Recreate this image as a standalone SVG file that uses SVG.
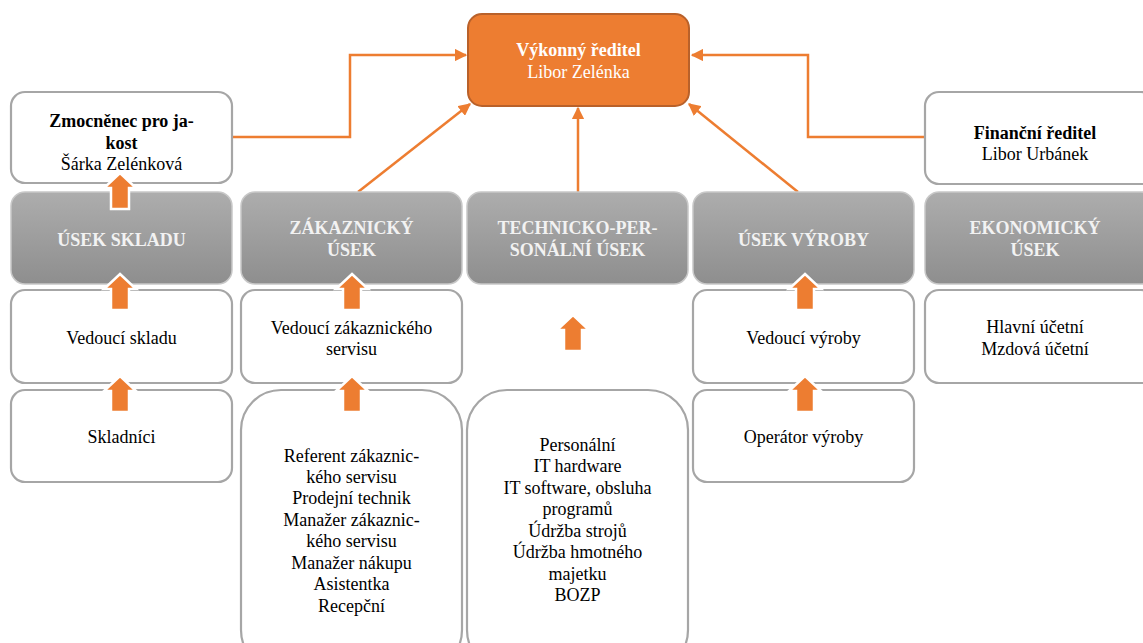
<svg xmlns="http://www.w3.org/2000/svg" width="1143" height="643" viewBox="0 0 1143 643" font-family="Liberation Serif, Times New Roman, Noto Serif, DejaVu Serif, FreeSerif, serif" font-size="18">
<defs>
<linearGradient id="grey" x1="0" y1="0" x2="0" y2="1">
<stop offset="0" stop-color="#ADADAD"/>
<stop offset="1" stop-color="#8E8E8E"/>
</linearGradient>
<marker id="ah" viewBox="0 0 10 10" refX="9" refY="5" markerWidth="5" markerHeight="5" orient="auto" markerUnits="strokeWidth">
<path d="M0,0 L10,5 L0,10 z" fill="#ED7D31"/>
</marker>
<path id="barrow" d="M0,0 L16,15 L9,15 L9,36 L-9,36 L-9,15 L-16,15 z"/>
</defs>
<style>
.box{fill:#fff;stroke:#A6A6A6;stroke-width:2.2}
.dept{fill:url(#grey);stroke:#C8C8C8;stroke-width:1.5}
text{fill:#000;text-anchor:middle}
.b{font-weight:bold}
.w{fill:#F2F2F2;font-weight:bold}
.conn{fill:none;stroke:#ED7D31;stroke-width:2.5}
.ba{fill:#ED7D31;stroke:#fff;stroke-width:2.5;stroke-linejoin:miter}
</style>
<rect width="1143" height="643" fill="#fff"/>

<g id="connectors">
<polyline class="conn" points="233,137 350,137 350,55 466,55" marker-end="url(#ah)"/>
<line class="conn" x1="358" y1="192" x2="470" y2="104" marker-end="url(#ah)"/>
<line class="conn" x1="578" y1="192" x2="578" y2="108" marker-end="url(#ah)"/>
<line class="conn" x1="798" y1="192" x2="689" y2="104" marker-end="url(#ah)"/>
<polyline class="conn" points="925,137 808,137 808,55 692,55" marker-end="url(#ah)"/>
</g>

<g id="n-vykonny">
<rect x="468" y="14" width="221" height="92" rx="14" fill="#ED7D31" stroke="#B9612A" stroke-width="2"/>
<text class="b" x="578.5" y="56" style="fill:#fff">Výkonný ředitel</text>
<text x="578.5" y="78" style="fill:#fff">Libor Zelénka</text>
</g>

<g id="n-zmocnenec">
<rect class="box" x="11" y="92" width="221" height="91" rx="14"/>
<text class="b" x="121.5" y="127">Zmocněnec pro ja-</text>
<text class="b" x="121.5" y="149">kost</text>
<text x="121.5" y="170">Šárka Zelénková</text>
</g>

<g id="n-financni">
<rect class="box" x="925" y="92" width="230" height="92" rx="14"/>
<text class="b" x="1035" y="139">Finanční ředitel</text>
<text x="1035" y="160">Libor Urbánek</text>
</g>

<g id="n-sklad">
<rect class="dept" x="11" y="192" width="221" height="92" rx="14"/>
<text class="w" x="121.5" y="246">ÚSEK SKLADU</text>
</g>
<g id="n-zakaznicky">
<rect class="dept" x="241" y="192" width="221" height="92" rx="14"/>
<text class="w" x="351.5" y="234">ZÁKAZNICKÝ</text>
<text class="w" x="351.5" y="256">ÚSEK</text>
</g>
<g id="n-technicko">
<rect class="dept" x="467" y="192" width="221" height="92" rx="14"/>
<text class="w" x="577.5" y="234">TECHNICKO-PER-</text>
<text class="w" x="577.5" y="256">SONÁLNÍ ÚSEK</text>
</g>
<g id="n-vyroba">
<rect class="dept" x="693" y="192" width="221" height="92" rx="14"/>
<text class="w" x="803.5" y="246">ÚSEK VÝROBY</text>
</g>
<g id="n-ekonomicky">
<rect class="dept" x="925" y="192" width="230" height="92" rx="14"/>
<text class="w" x="1035" y="234">EKONOMICKÝ</text>
<text class="w" x="1035" y="256">ÚSEK</text>
</g>

<g id="n-vedouci-skladu">
<rect class="box" x="11" y="290" width="221" height="93" rx="14"/>
<text x="121.5" y="344">Vedoucí skladu</text>
</g>
<g id="n-vedouci-zak">
<rect class="box" x="241" y="290" width="221" height="93" rx="14"/>
<text x="351.5" y="334">Vedoucí zákaznického</text>
<text x="351.5" y="355">servisu</text>
</g>
<g id="n-vedouci-vyroby">
<rect class="box" x="693" y="290" width="221" height="93" rx="14"/>
<text x="803.5" y="344">Vedoucí výroby</text>
</g>
<g id="n-ucetni">
<rect class="box" x="925" y="290" width="230" height="93" rx="14"/>
<text x="1035" y="333">Hlavní účetní</text>
<text x="1035" y="355">Mzdová účetní</text>
</g>

<g id="n-skladnici">
<rect class="box" x="11" y="390" width="221" height="92" rx="14"/>
<text x="121.5" y="443">Skladníci</text>
</g>
<g id="n-zak-staff">
<rect class="box" x="241" y="390" width="221" height="280" rx="40"/>
<text x="351.5" y="462">Referent zákaznic-</text>
<text x="351.5" y="483">kého servisu</text>
<text x="351.5" y="504">Prodejní technik</text>
<text x="351.5" y="526">Manažer zákaznic-</text>
<text x="351.5" y="547">kého servisu</text>
<text x="351.5" y="569">Manažer nákupu</text>
<text x="351.5" y="590">Asistentka</text>
<text x="351.5" y="612">Recepční</text>
</g>
<g id="n-tech-staff">
<rect class="box" x="467" y="390" width="221" height="280" rx="40"/>
<text x="577.5" y="451">Personální</text>
<text x="577.5" y="472">IT hardware</text>
<text x="577.5" y="494">IT software, obsluha</text>
<text x="577.5" y="515">programů</text>
<text x="577.5" y="537">Údržba strojů</text>
<text x="577.5" y="558">Údržba hmotného</text>
<text x="577.5" y="580">majetku</text>
<text x="577.5" y="601">BOZP</text>
</g>
<g id="n-operator">
<rect class="box" x="693" y="390" width="221" height="92" rx="14"/>
<text x="803.5" y="443">Operátor výroby</text>
</g>

<g id="block-arrows">
<use href="#barrow" class="ba" x="120" y="173"/>
<use href="#barrow" class="ba" x="120" y="274"/>
<use href="#barrow" class="ba" x="120" y="376"/>
<use href="#barrow" class="ba" x="352" y="274"/>
<use href="#barrow" class="ba" x="352" y="376"/>
<use href="#barrow" class="ba" x="573" y="315"/>
<use href="#barrow" class="ba" x="805" y="274"/>
<use href="#barrow" class="ba" x="805" y="376"/>
</g>
</svg>
